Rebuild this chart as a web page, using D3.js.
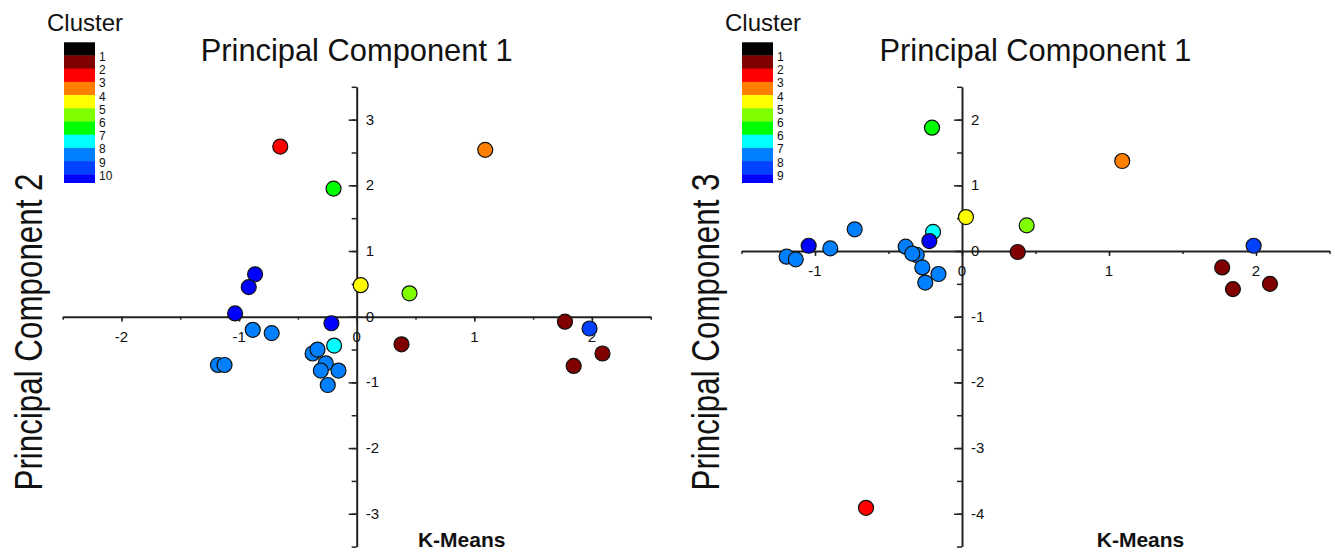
<!DOCTYPE html>
<html>
<head>
<meta charset="utf-8">
<script src="https://cdn.jsdelivr.net/npm/d3@7"></script>
<style>
  body { margin: 0; background: #fff; }
  text { font-family: "Liberation Sans", Arial, sans-serif; fill: #111; }
</style>
</head>
<body>
<div id="my_dataviz"></div>
<script>
// legend bands (top to bottom) and their labels
var bandColors = ["#000000", "#800000", "#ff0000", "#ff8000", "#ffff00", "#80ff00",
                  "#00ff00", "#00ffff", "#0080ff", "#0040ff", "#0000ff"];
var legendLabelsA = ["1", "2", "3", "4", "5", "6", "7", "8", "9", "10"];
var legendLabelsB = ["1", "2", "3", "4", "5", "6", "6", "7", "8", "9"];

// left panel: PC1 vs PC2 (cluster = band index, 1-based)
var pc1A = [-0.65, -0.197, 1.093, 0.034, 0.449, -0.864, -0.918, -1.034, -0.215, 1.98,
            -0.884, -0.723, -0.192, -0.375, -0.333, -1.18, -1.124, -0.263, -0.305, -0.155,
            -0.246, 0.381, 1.771, 2.09, 1.845];
var pc2A = [2.59, 1.95, 2.54, 0.48, 0.356, 0.645, 0.45, 0.05, -0.10, -0.18,
            -0.20, -0.25, -0.44, -0.56, -0.50, -0.735, -0.735, -0.71, -0.82, -0.82,
            -1.04, -0.42, -0.076, -0.56, -0.75];
var clusterA = [3, 7, 4, 5, 6, 11, 11, 11, 11, 10,
                9, 9, 8, 9, 9, 9, 9, 9, 9, 9,
                9, 2, 2, 2, 2];

// right panel: PC1 vs PC3
var pc1B = [-0.653, -0.204, 1.09, 0.027, 0.44, -0.197, -0.222, -1.043, 1.984, -0.73,
            -0.896, -1.193, -1.131, -0.383, -0.308, -0.338, -0.27, -0.16, -0.25, 0.379,
            1.77, 1.843, 2.095];
var pc3B = [-3.91, 1.877, 1.37, 0.517, 0.39, 0.29, 0.152, 0.08, 0.08, 0.33,
            0.04, -0.086, -0.127, 0.066, -0.06, -0.04, -0.25, -0.35, -0.48, -0.015,
            -0.25, -0.58, -0.50];
var clusterB = [3, 7, 4, 5, 6, 8, 11, 11, 10, 9,
                9, 9, 9, 9, 9, 9, 9, 9, 9, 2,
                2, 2, 2];

var width = 1335, height = 558;

var svg = d3.select("#my_dataviz")
  .append("svg")
    .attr("width", width)
    .attr("height", height);

function fmt(d) { return String(d); }  // plain hyphen minus

function drawPanel(opt) {
  var g = svg.append("g");
  var x = d3.scaleLinear().domain(opt.xDomain).range([opt.left, opt.left + 588]);
  var y = d3.scaleLinear().domain(opt.yDomain).range([546.6, 86.8]);

  var xHalf = d3.range(opt.xDomain[0], opt.xDomain[1] + 0.01, 0.5);
  var xInt = xHalf.filter(function (d) { return d % 1 === 0; });
  var yHalf = d3.range(opt.yDomain[0], opt.yDomain[1] + 0.01, 0.5);
  var yInt = yHalf.filter(function (d) { return d % 1 === 0; });

  // X axis through y = 0
  var gx = g.append("g").attr("transform", "translate(0," + y(0) + ")");
  gx.call(d3.axisBottom(x).tickValues(xHalf).tickSize(3).tickSizeOuter(0).tickFormat(""));
  gx.call(function (s) { s.select(".domain").attr("stroke-width", 2); });
  g.append("g").attr("transform", "translate(0," + y(0) + ")")
    .call(d3.axisBottom(x).tickValues(xInt).tickSize(5).tickSizeOuter(0).tickFormat(""))
    .call(function (s) { s.select(".domain").remove(); });

  // Y axis through x = 0
  var gy = g.append("g").attr("transform", "translate(" + x(0) + ",0)");
  gy.call(d3.axisLeft(y).tickValues(yHalf).tickSize(5).tickSizeOuter(0).tickFormat(""));
  gy.call(function (s) { s.select(".domain").attr("stroke-width", 2); });
  g.append("g").attr("transform", "translate(" + x(0) + ",0)")
    .call(d3.axisLeft(y).tickValues(yInt).tickSize(8).tickSizeOuter(0).tickFormat(""))
    .call(function (s) { s.select(".domain").remove(); });

  g.selectAll(".tick line").attr("stroke", "#222").attr("stroke-width", 1.5);
  g.selectAll(".domain").attr("stroke", "#222");

  // tick labels
  g.append("g").selectAll("text").data(xInt).enter().append("text")
    .attr("x", function (d) { return x(d); })
    .attr("y", y(0) + 25)
    .attr("text-anchor", "middle")
    .style("font-size", "15px")
    .text(fmt);
  g.append("g").selectAll("text").data(yInt).enter().append("text")
    .attr("x", x(0) + 9)
    .attr("y", function (d) { return y(d) + 5; })
    .style("font-size", "15px")
    .text(fmt);

  // dots
  g.append("g").selectAll("circle")
    .data(opt.xs.map(function (v, i) { return {x: v, y: opt.ys[i], c: opt.cl[i]}; }))
    .enter()
    .append("circle")
      .attr("cx", function (d) { return x(d.x); })
      .attr("cy", function (d) { return y(d.y); })
      .attr("r", 7.5)
      .style("fill", function (d) { return bandColors[d.c - 1]; })
      .attr("stroke", "#111")
      .style("stroke-width", "1.2px");

  var cx = opt.left + 294;
  // titles
  g.append("text")
    .attr("x", cx).attr("y", 61)
    .attr("text-anchor", "middle")
    .attr("textLength", 312).attr("lengthAdjust", "spacingAndGlyphs")
    .style("font-size", "32px")
    .text("Principal Component 1");
  g.append("text")
    .attr("transform", "translate(" + opt.yTitleX + ",332) rotate(-90)")
    .attr("text-anchor", "middle")
    .attr("textLength", 317).attr("lengthAdjust", "spacingAndGlyphs")
    .style("font-size", "38px")
    .text(opt.yTitle);
  g.append("text")
    .attr("x", cx + 105).attr("y", 547)
    .attr("text-anchor", "middle")
    .style("font-size", "21px").style("font-weight", "bold")
    .text("K-Means");

  // legend
  var lg = g.append("g");
  lg.append("text").attr("x", opt.legX - 17).attr("y", 31)
    .style("font-size", "24px").text("Cluster");
  var ly = d3.scaleLinear().domain([0, 11]).range([42.3, 187.5]);
  lg.selectAll("rect").data(bandColors).enter().append("rect")
    .attr("x", opt.legX).attr("width", 31)
    .attr("y", function (d, i) { return ly(i); })
    .attr("height", function (d, i) { return Math.min(ly(i + 1), 182.7) - ly(i) + 0.3; })
    .attr("fill", function (d) { return d; });
  lg.selectAll(".ll").data(opt.legLabels).enter().append("text")
    .attr("x", opt.legX + 35)
    .attr("y", function (d, i) { return ly(i + 1) + 5.5; })
    .style("font-size", "12px")
    .text(function (d) { return d; });
}

drawPanel({left: 62.7, xDomain: [-2.5, 2.5], yDomain: [-3.5, 3.5],
           xs: pc1A, ys: pc2A, cl: clusterA, yTitle: "Principal Component 2",
           yTitleX: 42, legX: 64, legLabels: legendLabelsA});
drawPanel({left: 741.5, xDomain: [-1.5, 2.5], yDomain: [-4.5, 2.5],
           xs: pc1B, ys: pc3B, cl: clusterB, yTitle: "Principal Component 3",
           yTitleX: 719, legX: 742, legLabels: legendLabelsB});
</script>
</body>
</html>
